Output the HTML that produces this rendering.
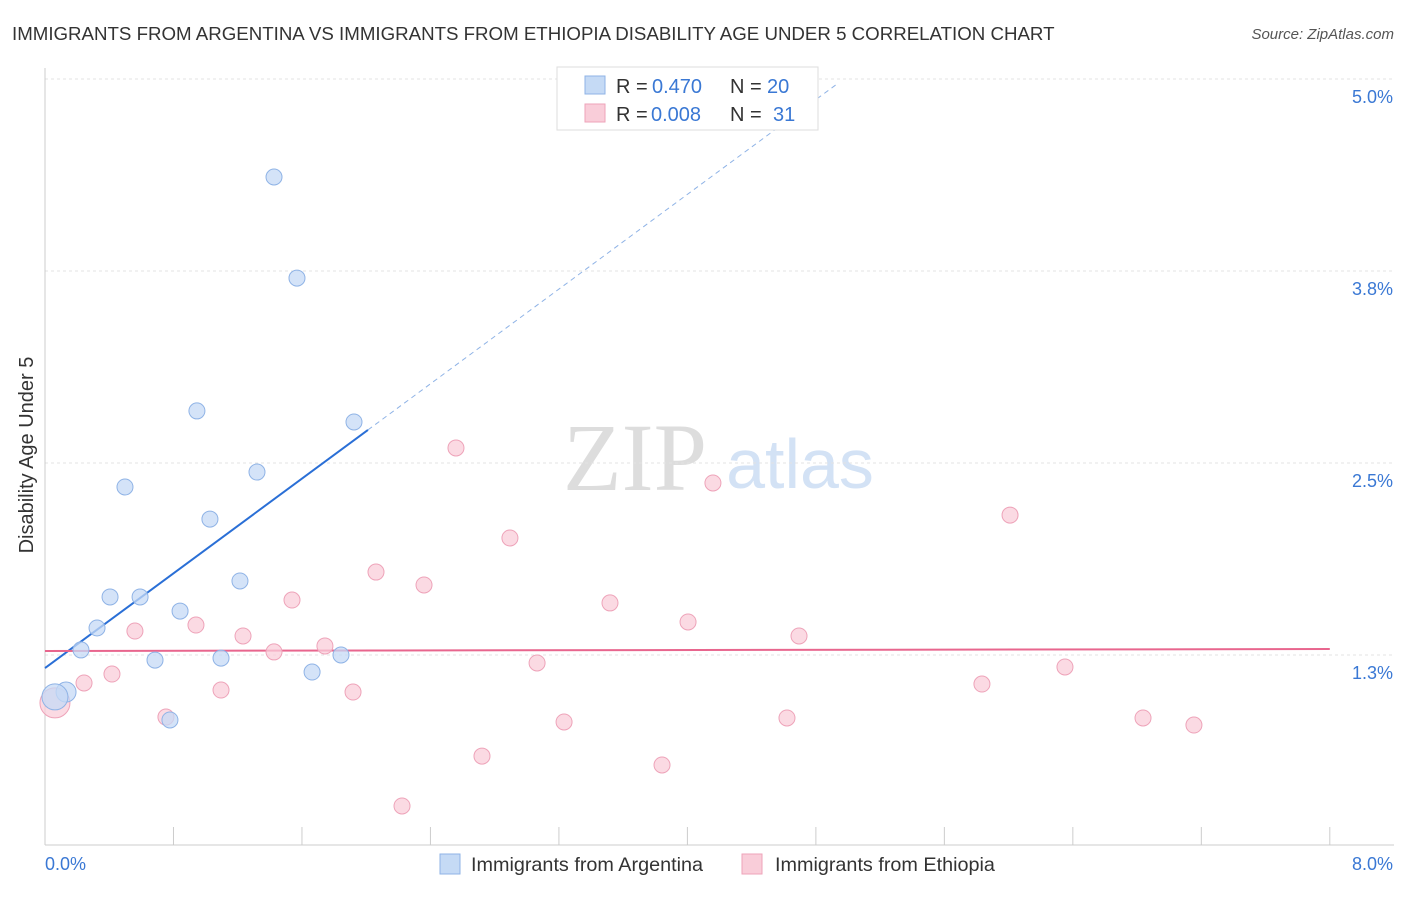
<!DOCTYPE html>
<html><head><meta charset="utf-8"><style>
body{margin:0;background:#fff;font-family:"Liberation Sans",sans-serif}
</style></head><body>
<svg id="chart" width="1406" height="892" xmlns="http://www.w3.org/2000/svg" font-family="Liberation Sans, sans-serif">
<text x="12" y="40" font-size="18.7" fill="#333">IMMIGRANTS FROM ARGENTINA VS IMMIGRANTS FROM ETHIOPIA DISABILITY AGE UNDER 5 CORRELATION CHART</text>
<text x="1394" y="39" font-size="15" fill="#555" text-anchor="end" font-style="italic">Source: ZipAtlas.com</text>
<g>
<text x="635" y="490" font-size="96" fill="#ddd" font-family="Liberation Serif, serif" text-anchor="middle">ZIP</text>
<text x="800" y="488" font-size="70" fill="#d3e2f5" text-anchor="middle">atlas</text>
</g>
<text transform="translate(33,455) rotate(-90)" font-size="20" fill="#333" text-anchor="middle">Disability Age Under 5</text>
<g id="grid"></g><g id="axes"></g><g id="lines"></g><g id="points"></g>
<g>
<rect x="557" y="67" width="261" height="63" fill="#fff" stroke="#ddd"/>
<rect x="585" y="76" width="20" height="18" fill="#c5daf5" stroke="#8fb3e6"/>
<rect x="585" y="104" width="20" height="18" fill="#f9cdd9" stroke="#eea3b9"/>
<text y="93" font-size="20" fill="#333"><tspan x="616">R =</tspan><tspan x="652" fill="#3a78d4">0.470</tspan><tspan x="730">N =</tspan><tspan x="767" fill="#3a78d4">20</tspan></text>
<text y="121" font-size="20" fill="#333"><tspan x="616">R =</tspan><tspan x="651" fill="#3a78d4">0.008</tspan><tspan x="730">N =</tspan><tspan x="773" fill="#3a78d4">31</tspan></text>
</g>
<g>
<rect x="440" y="854" width="20" height="20" fill="#c5daf5" stroke="#8fb3e6"/>
<text x="471" y="871" font-size="19.8" fill="#333">Immigrants from Argentina</text>
<rect x="742" y="854" width="20" height="20" fill="#f9cdd9" stroke="#eea3b9"/>
<text x="775" y="871" font-size="19.8" fill="#333">Immigrants from Ethiopia</text>
</g>
</svg>
<script>
const yTicks=[5.0,3.75,2.5,1.25];
const yTickLabels=["5.0%","3.8%","2.5%","1.3%"];
const xTickCount=10;
const argX=[1.426,1.569,0.946,1.924,0.498,1.320,1.027,1.214,0.405,0.592,0.841,0.324,0.224,0.685,1.096,1.843,1.663,0.131,0.062,0.778];
const argY=[4.362,3.704,2.839,2.767,2.344,2.441,2.135,1.732,1.628,1.628,1.536,1.426,1.283,1.217,1.230,1.250,1.139,1.009,0.977,0.827];
const argR=[8,8,8,8,8,8,8,8,8,8,8,8,8,8,8,8,8,10,13,8];
const ethX=[2.559,4.159,6.009,2.895,2.061,2.360,1.538,3.518,0.560,0.940,4.004,1.233,4.695,1.743,1.426,3.064,6.351,0.417,0.243,1.096,1.918,5.834,0.062,0.753,3.232,4.620,6.837,7.154,2.721,3.842,2.223];
const ethY=[2.598,2.370,2.161,2.012,1.790,1.706,1.608,1.589,1.406,1.445,1.465,1.374,1.374,1.309,1.270,1.198,1.172,1.126,1.068,1.022,1.009,1.061,0.938,0.846,0.814,0.840,0.840,0.794,0.592,0.534,0.267];
const ethR=[8,8,8,8,8,8,8,8,8,8,8,8,8,8,8,8,8,8,8,8,8,8,15,8,8,8,8,8,8,8,8];
const argTrend=[1.165,0.771];
const ethTrend=[1.276,0.0016];
const NS="http://www.w3.org/2000/svg";
const X=v=>45+v*160.6, Y=v=>79+(5-v)*153.6;
function mk(t,a,p){const e=document.createElementNS(NS,t);for(const k in a)e.setAttribute(k,a[k]);document.getElementById(p).appendChild(e);return e;}
yTicks.forEach((t,i)=>{
 const g=mk('line',{x1:45,x2:1394,y1:Y(t),y2:Y(t),stroke:'#e3e3e3','stroke-dasharray':'3,3'},'grid');
 
 
 const l=mk('text',{x:1393,y:Y(t)+24,'font-size':18,fill:'#3a78d4','text-anchor':'end'},'axes');
 l.textContent=yTickLabels[i];
 
 
});
const ax=mk('line',{x1:45,x2:1394,y1:845,y2:845,stroke:'#ccc'},'axes');


const ay=mk('line',{x1:45,x2:45,y1:68,y2:845,stroke:'#ccc'},'axes');


for(let i=1;i<=xTickCount;i++){const t=mk('line',{x1:X(i*0.8),x2:X(i*0.8),y1:827,y2:845,stroke:'#ccc'},'axes');
 
 }
const x0=mk('text',{x:45,y:870,'font-size':18,fill:'#3a78d4'},'axes');x0.textContent='0.0%';


const x1=mk('text',{x:1393,y:870,'font-size':18,fill:'#3a78d4','text-anchor':'end'},'axes');x1.textContent='8.0%';


const aEnd=2.011, aDash=4.93;
const t1=mk('line',{x1:X(0),y1:Y(argTrend[0]),x2:X(aEnd),y2:Y(argTrend[0]+argTrend[1]*aEnd),stroke:'#2a6fd6','stroke-width':2},'lines');


const t2=mk('line',{x1:X(aEnd),y1:Y(argTrend[0]+argTrend[1]*aEnd),x2:X(aDash),y2:Y(argTrend[0]+argTrend[1]*aDash),stroke:'#8fb3e6','stroke-width':1,'stroke-dasharray':'5,4'},'lines');


const t3=mk('line',{x1:X(0),y1:Y(ethTrend[0]),x2:X(8),y2:Y(ethTrend[0]+ethTrend[1]*8),stroke:'#e8668e','stroke-width':2},'lines');


ethX.forEach((v,i)=>{const c=mk('circle',{cx:X(v),cy:Y(ethY[i]),r:ethR[i],fill:'#f9cdd9','fill-opacity':0.75,stroke:'#eea3b9'},'points');
 
 });
argX.forEach((v,i)=>{const c=mk('circle',{cx:X(v),cy:Y(argY[i]),r:argR[i],fill:'#c5daf5','fill-opacity':0.75,stroke:'#8fb3e6'},'points');
 
 });
</script>
</body></html>
